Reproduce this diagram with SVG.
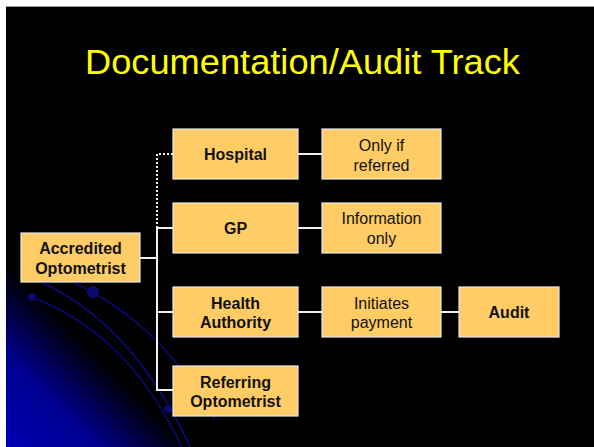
<svg xmlns="http://www.w3.org/2000/svg" width="594" height="447" viewBox="0 0 594 447">
<defs>
<linearGradient id="bg" gradientUnits="userSpaceOnUse" x1="6" y1="447" x2="98" y2="355">
<stop offset="0" stop-color="#0000B4"/>
<stop offset="0.5" stop-color="#000090"/>
<stop offset="1" stop-color="#000000"/>
</linearGradient>
<style>
.box{fill:#FFCC66;stroke:#E8E8E8;stroke-width:1.2}
.b{font-family:"Liberation Sans",Arial,sans-serif;font-weight:bold;font-size:16px;fill:#111;text-anchor:middle}
.r{font-family:"Liberation Sans",Arial,sans-serif;font-size:16px;fill:#111;text-anchor:middle}
.arc{fill:none;stroke:#0A0A80;stroke-width:1.5}
.dot{fill:#0A0A70}
.ln{fill:none;stroke:#F0F0F0;stroke-width:2}
</style>
</defs>
<rect x="0" y="0" width="594" height="447" fill="#FFFFFF"/>
<rect x="6" y="6" width="588" height="441" fill="#000000"/>
<line x1="6" y1="6.5" x2="594" y2="6.5" stroke="#999" stroke-width="1"/>
<rect x="6" y="250" width="200" height="197" fill="url(#bg)"/>
<g id="decor">
<path class="arc" d="M32,297 C90,320 140,360 182,447"/>
<path class="arc" d="M43,283 C100,310 150,360 190,447"/>
<path class="arc" d="M75,283 C120,305 170,340 215,420"/>
<circle class="dot" cx="32" cy="297" r="4"/>
<circle class="dot" cx="93" cy="292" r="6"/>
<circle class="dot" cx="168" cy="409" r="4"/>
</g>
<text x="302.5" y="74" font-family="'Liberation Sans',Arial,sans-serif" font-size="35" fill="#FFFF00" text-anchor="middle" textLength="435" lengthAdjust="spacingAndGlyphs">Documentation/Audit Track</text>
<g id="connectors">
<path class="ln" d="M140,258 H157 M157,228 V391 M157,228 H173 M157,312 H173 M157,390 H173 M298,154 H322 M298,228 H322 M298,312 H322 M441,312 H459"/>
<path fill="none" stroke="#F0F0F0" stroke-width="2" stroke-dasharray="2,2" d="M157,228 V154 H173"/>
</g>
<g id="accredited"><rect class="box" x="21" y="233" width="119" height="49"/><text class="b" x="80.5" y="254">Accredited</text><text class="b" x="80.5" y="274">Optometrist</text></g>
<g id="hospital"><rect class="box" x="173" y="129" width="125" height="50"/><text class="b" x="235.5" y="160">Hospital</text></g>
<g id="onlyif"><rect class="box" x="322" y="129" width="119" height="50"/><text class="r" x="381.5" y="151">Only if</text><text class="r" x="381.5" y="171">referred</text></g>
<g id="gp"><rect class="box" x="173" y="203" width="125" height="50"/><text class="b" x="235.5" y="234">GP</text></g>
<g id="info"><rect class="box" x="322" y="203" width="119" height="50"/><text class="r" x="381.5" y="224">Information</text><text class="r" x="381.5" y="244">only</text></g>
<g id="health"><rect class="box" x="173" y="287" width="125" height="50"/><text class="b" x="235.5" y="309">Health</text><text class="b" x="235.5" y="328">Authority</text></g>
<g id="initiates"><rect class="box" x="322" y="287" width="119" height="50"/><text class="r" x="381.5" y="309">Initiates</text><text class="r" x="381.5" y="328">payment</text></g>
<g id="audit"><rect class="box" x="459" y="287" width="100" height="50"/><text class="b" x="509" y="318">Audit</text></g>
<g id="referring"><rect class="box" x="173" y="366" width="125" height="50"/><text class="b" x="235.5" y="388">Referring</text><text class="b" x="235.5" y="407">Optometrist</text></g>
</svg>
